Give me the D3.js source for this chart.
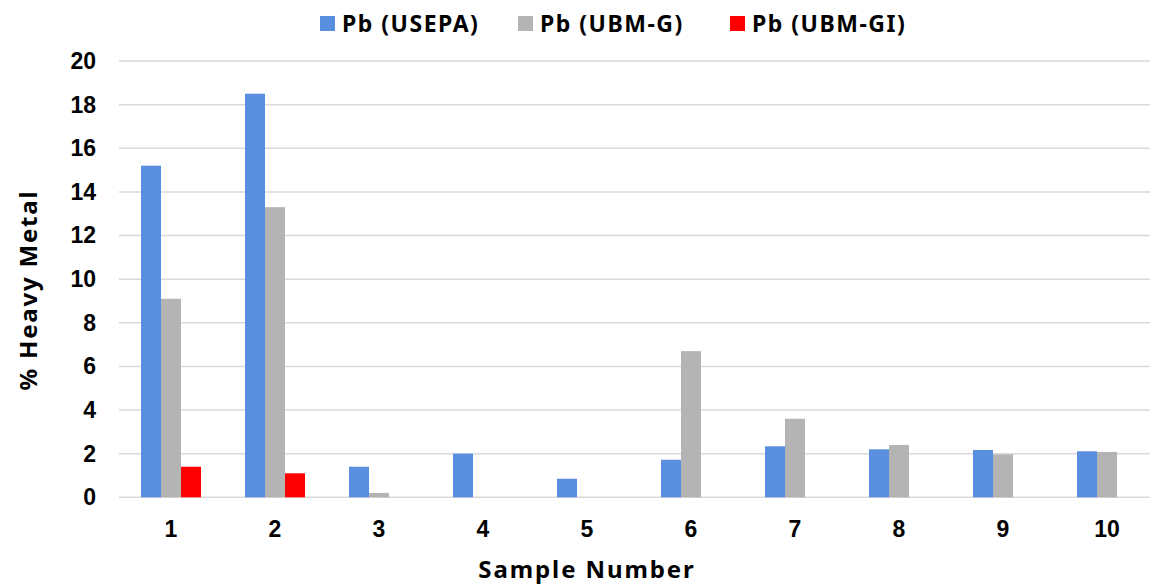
<!DOCTYPE html>
<html>
<head>
<meta charset="utf-8">
<script src="https://cdn.jsdelivr.net/npm/d3@7"></script>
<style>
  body { margin: 0; background: #fff; }
  svg { display: block; font-family: "Noto Sans", "DejaVu Sans", sans-serif; font-weight: bold; }
</style>
</head>
<body>
<div id="chart"></div>
<script>
// data
const samples = ['1', '2', '3', '4', '5', '6', '7', '8', '9', '10'];
const seriesNames = ['Pb (USEPA)', 'Pb (UBM-G)', 'Pb (UBM-GI)'];
const usepa = [15.2, 18.5, 1.4, 2.0, 0.85, 1.72, 2.34, 2.2, 2.17, 2.11];
const ubmG = [9.1, 13.3, 0.2, 0, 0, 6.7, 3.6, 2.4, 1.97, 2.08];
const ubmGI = [1.4, 1.1, 0, 0, 0, 0, 0, 0, 0, 0];
const yTicks = [0, 2, 4, 6, 8, 10, 12, 14, 16, 18, 20];
const colors = ['#5a8fe0', '#b4b4b4', '#ff0000'];

const width = 1150;
const height = 584;
const margin = { top: 61, right: -9, bottom: 87, left: 119 };

const table = samples.map((s, i) => ({
  sample: s,
  values: [usepa[i], ubmG[i], ubmGI[i]]
}));

const svg = d3.select('#chart')
    .append('svg')
    .attr('width', width)
    .attr('height', height);

const x = d3.scaleBand()
    .domain(samples)
    .range([margin.left, width - margin.right])
    .paddingInner(0.423)
    .paddingOuter(0.2115);

const xs = d3.scaleBand()
    .domain(d3.range(seriesNames.length))
    .range([0, x.bandwidth()]);

const y = d3.scaleLinear()
    .domain([0, 20])
    .range([height - margin.bottom + 0.3, margin.top]);

// gridlines
svg.append('g')
    .selectAll('line')
    .data(yTicks)
    .join('line')
    .attr('x1', margin.left)
    .attr('x2', width)
    .attr('y1', (d) => y(d))
    .attr('y2', (d) => y(d))
    .attr('stroke', '#d9d9d9')
    .attr('stroke-width', 1.5);

// bars
svg.append('g')
    .selectAll('g')
    .data(table)
    .join('g')
    .attr('transform', (d) => `translate(${x(d.sample)},0)`)
    .selectAll('rect')
    .data((d) => d.values.map((v, k) => ({ v, k })))
    .join('rect')
    .attr('x', (d) => xs(d.k))
    .attr('width', xs.bandwidth())
    .attr('y', (d) => y(d.v))
    .attr('height', (d) => y(0) - y(d.v))
    .attr('fill', (d) => colors[d.k]);

// y axis labels
const yAxis = svg.append('g')
    .attr('transform', `translate(${margin.left - 23},0)`)
    .call(d3.axisLeft(y).tickValues(yTicks).tickSize(0).tickPadding(0));
yAxis.select('.domain').remove();
yAxis.selectAll('text')
    .attr('font-size', 23)
    .attr('font-weight', 'bold')
    .attr('font-family', null)
    .attr('fill', '#000');

// x axis labels
const xAxis = svg.append('g')
    .attr('transform', `translate(0,${y(0)})`)
    .call(d3.axisBottom(x).tickSize(0).tickPadding(23));
xAxis.select('.domain').remove();
xAxis.selectAll('text')
    .attr('font-size', 23)
    .attr('font-weight', 'bold')
    .attr('font-family', null)
    .attr('fill', '#000');

// axis titles
svg.append('text')
    .attr('x', 587)
    .attr('y', 578)
    .attr('text-anchor', 'middle')
    .attr('font-size', 24)
    .attr('letter-spacing', 1.9)
    .text('Sample Number');

svg.append('text')
    .attr('transform', 'translate(37,290) rotate(-90)')
    .attr('text-anchor', 'middle')
    .attr('font-size', 24)
    .attr('letter-spacing', 1.8)
    .text('% Heavy Metal');

// legend
const legendX = [320, 518, 730];
const legend = svg.append('g')
    .selectAll('g')
    .data(seriesNames)
    .join('g')
    .attr('transform', (d, i) => `translate(${legendX[i]},16)`);
legend.append('rect')
    .attr('width', 15)
    .attr('height', 15)
    .attr('fill', (d, i) => colors[i]);
legend.append('text')
    .attr('x', 22)
    .attr('y', 16)
    .attr('font-size', 23)
    .attr('letter-spacing', 1.5)
    .text((d) => d);
</script>
</body>
</html>
